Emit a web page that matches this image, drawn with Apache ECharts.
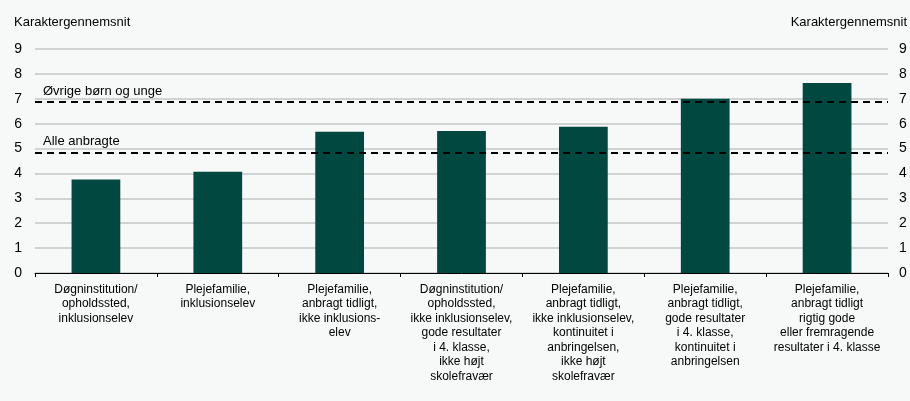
<!DOCTYPE html>
<html><head><meta charset="utf-8">
<script src="https://cdn.jsdelivr.net/npm/echarts@6/dist/echarts.min.js"></script>
<style>html,body{margin:0;padding:0;background:#f7f9f9}#c{width:910px;height:401px}</style>
</head><body><div id="c"></div>
<script>
const categories = [
  "Døgninstitution/\nopholdssted,\ninklusionselev",
  "Plejefamilie,\ninklusionselev",
  "Plejefamilie,\nanbragt tidligt,\nikke inklusions-\nelev",
  "Døgninstitution/\nopholdssted,\nikke inklusionselev,\ngode resultater\ni 4. klasse,\nikke højt\nskolefravær",
  "Plejefamilie,\nanbragt tidligt,\nikke inklusionselev,\nkontinuitet i\nanbringelsen,\nikke højt\nskolefravær",
  "Plejefamilie,\nanbragt tidligt,\ngode resultater\ni 4. klasse,\nkontinuitet i\nanbringelsen",
  "Plejefamilie,\nanbragt tidligt\nrigtig gode\neller fremragende\nresultater i 4. klasse"
];
const values = [3.76, 4.07, 5.68, 5.71, 5.88, 7.0, 7.63];
const refLines = [
  {name: "Øvrige børn og unge", value: 6.87},
  {name: "Alle anbragte", value: 4.85}
];
const yTicks = {min: 0, max: 9, interval: 1};
const axisTitle = "Karaktergennemsnit";

const font = "Liberation Sans, Arial, sans-serif";
const chart = echarts.init(document.getElementById('c'), null, {renderer: 'canvas'});
chart.setOption({
  backgroundColor: '#f7f9f9',
  animation: false,
  grid: {left: 35, right: 22, top: 49, bottom: 128},
  xAxis: {
    type: 'category',
    data: categories,
    axisLine: {lineStyle: {color: '#000', width: 1}},
    axisTick: {show: true, length: 4, lineStyle: {color: '#000'}},
    axisLabel: {interval: 0, color: '#000', fontFamily: font, fontSize: 12, lineHeight: 14.5, margin: 9}
  },
  yAxis: [
    {
      type: 'value', min: yTicks.min, max: yTicks.max, interval: yTicks.interval,
      name: axisTitle, nameLocation: 'end', nameGap: 20,
      nameTextStyle: {align: 'left', padding: [0, 0, 0, -21], color: '#000', fontFamily: font, fontSize: 13},
      axisLine: {show: false}, axisTick: {show: false},
      axisLabel: {color: '#000', fontFamily: font, fontSize: 14, margin: 13},
      splitLine: {lineStyle: {color: '#c4c4c4', width: 1.5}}
    },
    {
      type: 'value', min: yTicks.min, max: yTicks.max, interval: yTicks.interval,
      position: 'right',
      name: axisTitle, nameLocation: 'end', nameGap: 20,
      nameTextStyle: {align: 'right', padding: [0, -19, 0, 0], color: '#000', fontFamily: font, fontSize: 13},
      axisLine: {show: false}, axisTick: {show: false},
      axisLabel: {color: '#000', fontFamily: font, fontSize: 14, margin: 11},
      splitLine: {show: false}
    }
  ],
  series: [{
    type: 'bar',
    data: values,
    barWidth: '40%',
    itemStyle: {color: '#004840'},
    markLine: {
      silent: true,
      symbol: ['none', 'none'],
      lineStyle: {color: '#000', type: [7, 5], width: 2},
      label: {
        show: true, position: 'insideStartTop', distance: [8, 4],
        formatter: p => p.name, color: '#000', fontFamily: font, fontSize: 13
      },
      data: refLines.map(r => ({name: r.name, yAxis: r.value}))
    }
  }]
});
</script></body></html>
